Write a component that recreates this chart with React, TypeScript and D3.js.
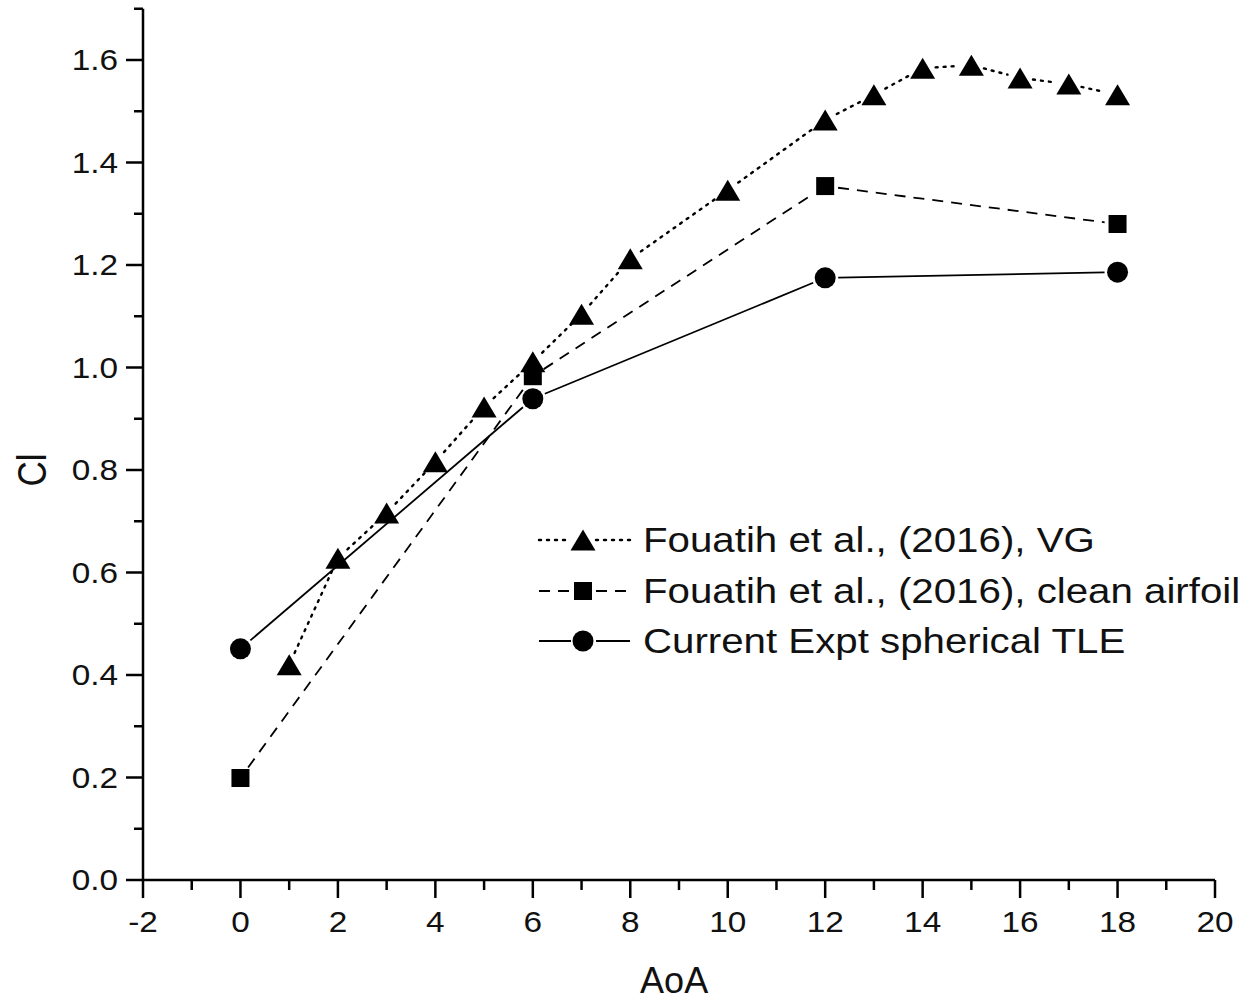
import React from "react";
import * as d3 from "d3";

// Angle of attack (deg) and lift coefficient for each series
const vgAoA = [1, 2, 3, 4, 5, 6, 7, 8, 10, 12, 13, 14, 15, 16, 17, 18];
const vgCl = [0.42, 0.628, 0.716, 0.816, 0.923, 1.011, 1.104, 1.212, 1.346, 1.483, 1.532, 1.584, 1.59, 1.565, 1.553, 1.532];

const cleanAoA = [0, 6, 12, 18];
const cleanCl = [0.199, 0.983, 1.354, 1.28];

const tleAoA = [0, 6, 12, 18];
const tleCl = [0.451, 0.939, 1.175, 1.186];

const xMajorTicks = [-2, 0, 2, 4, 6, 8, 10, 12, 14, 16, 18, 20];
const yMajorTicks = [0, 0.2, 0.4, 0.6, 0.8, 1.0, 1.2, 1.4, 1.6];

const seriesNames = [
  "Fouatih et al., (2016), VG",
  "Fouatih et al., (2016), clean airfoil",
  "Current Expt spherical TLE",
];

const W = 1260;
const H = 1001;
const FONT = "'Liberation Sans', Arial, sans-serif";
const SX = 1.15; // horizontal text stretch

type Kind = "triangle" | "square" | "circle";

function Marker({ kind, x, y }: { kind: Kind; x: number; y: number }) {
  if (kind === "triangle") {
    const w = 25, h = 21;
    return (
      <path
        d={`M${x - w / 2},${y + h / 2} L${x + w / 2},${y + h / 2} L${x},${y - h / 2} Z`}
        fill="#000"
      />
    );
  }
  if (kind === "square") {
    const s = 18;
    return <rect x={x - s / 2} y={y - s / 2} width={s} height={s} fill="#000" />;
  }
  return <circle cx={x} cy={y} r={10.5} fill="#000" />;
}

// Connect consecutive points, leaving a small gap around each marker
function gappedSegments(pts: [number, number][], gap: number) {
  const segs: string[] = [];
  for (let i = 0; i < pts.length - 1; i++) {
    const [x1, y1] = pts[i];
    const [x2, y2] = pts[i + 1];
    const dx = x2 - x1, dy = y2 - y1;
    const len = Math.hypot(dx, dy);
    if (len <= 2 * gap) continue;
    const ux = dx / len, uy = dy / len;
    segs.push(
      d3.line()([
        [x1 + ux * gap, y1 + uy * gap],
        [x2 - ux * gap, y2 - uy * gap],
      ]) as string
    );
  }
  return segs;
}

export default function App() {
  const x = d3.scaleLinear().domain([-2, 20]).range([143, 1215]);
  const y = d3.scaleLinear().domain([0, 1.7]).range([880, 8.75]);

  const xMinor = d3.range(-1, 20, 2);
  const yMinor = d3.range(0.1, 1.75, 0.2);

  const series = [
    { name: seriesNames[0], xs: vgAoA, ys: vgCl, kind: "triangle" as Kind, dash: "2 6", gap: 13 },
    { name: seriesNames[1], xs: cleanAoA, ys: cleanCl, kind: "square" as Kind, dash: "11 8", gap: 13 },
    { name: seriesNames[2], xs: tleAoA, ys: tleCl, kind: "circle" as Kind, dash: "none", gap: 13 },
  ];

  const legendY = [540, 591, 641];

  return (
    <div style={{ position: "absolute", left: 0, top: 0 }}>
      <svg width={W} height={H} style={{ display: "block", background: "#fff" }}>
        {/* axes */}
        <g stroke="#000" strokeWidth={2.5} fill="none">
          <line x1={x(-2)} x2={x(20)} y1={y(0)} y2={y(0)} />
          <line x1={x(-2)} x2={x(-2)} y1={y(0)} y2={y(1.7)} />
          {xMajorTicks.map((t) => (
            <line key={"xm" + t} x1={x(t)} x2={x(t)} y1={y(0)} y2={y(0) + 18} />
          ))}
          {xMinor.map((t) => (
            <line key={"xn" + t} x1={x(t)} x2={x(t)} y1={y(0)} y2={y(0) + 10} />
          ))}
          {yMajorTicks.map((t) => (
            <line key={"ym" + t} x1={x(-2) - 17} x2={x(-2)} y1={y(t)} y2={y(t)} />
          ))}
          {yMinor.map((t) => (
            <line key={"yn" + t} x1={x(-2) - 9} x2={x(-2)} y1={y(t)} y2={y(t)} />
          ))}
        </g>

        {/* tick labels */}
        <g fontFamily={FONT} fontSize={29} fill="#111">
          {xMajorTicks.map((t) => (
            <text
              key={"xl" + t}
              transform={`translate(${x(t)},${y(0) + 52}) scale(${SX},1)`}
              textAnchor="middle"
            >
              {t}
            </text>
          ))}
          {yMajorTicks.map((t) => (
            <text
              key={"yl" + t}
              transform={`translate(${x(-2) - 25},${y(t) + 10}) scale(${SX},1)`}
              textAnchor="end"
            >
              {t.toFixed(1)}
            </text>
          ))}
        </g>

        {/* axis titles */}
        <g fontFamily={FONT} fontSize={36} fill="#111">
          <text x={x(8.9)} y={993} textAnchor="middle">
            AoA
          </text>
          <text
            transform={`translate(46,${y(0.8)}) rotate(-90) scale(1,${SX})`}
            textAnchor="middle"
            fontSize={35}
          >
            Cl
          </text>
        </g>

        {/* series */}
        {series.map((s) => {
          const pts = s.xs.map((v, i) => [x(v), y(s.ys[i])] as [number, number]);
          return (
            <g key={s.name}>
              {gappedSegments(pts, s.gap).map((d, i) => (
                <path
                  key={i}
                  d={d}
                  fill="none"
                  stroke="#000"
                  strokeWidth={s.kind === "triangle" ? 2.4 : 1.8}
                  strokeDasharray={s.dash}
                  strokeLinecap={s.kind === "triangle" ? "round" : "butt"}
                />
              ))}
              {pts.map(([px, py], i) => (
                <Marker key={i} kind={s.kind} x={px} y={py} />
              ))}
            </g>
          );
        })}

        {/* legend */}
        {series.map((s, i) => {
          const ly = legendY[i];
          return (
            <g key={"lg" + s.name}>
              <path
                d={`M539,${ly} L571,${ly} M596,${ly} L630,${ly}`}
                fill="none"
                stroke="#000"
                strokeWidth={s.kind === "triangle" ? 2.4 : 1.8}
                strokeDasharray={s.dash}
                strokeLinecap={s.kind === "triangle" ? "round" : "butt"}
              />
              <Marker kind={s.kind} x={583} y={ly} />
              <text
                transform={`translate(643,${ly + 12}) scale(${SX},1)`}
                fontFamily={FONT}
                fontSize={35}
                fill="#111"
              >
                {s.name}
              </text>
            </g>
          );
        })}
      </svg>
    </div>
  );
}
